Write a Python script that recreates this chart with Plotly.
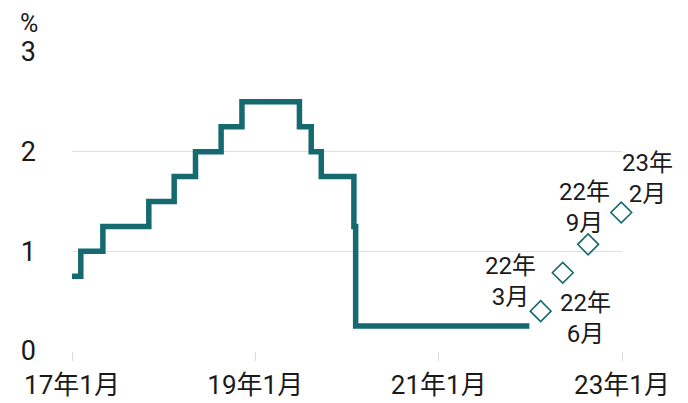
import plotly.graph_objects as go

# Policy rate (step line), dates
rate_dates = ["2017-01-01", "2017-02-05", "2017-05-04", "2017-11-03", "2018-02-12",
              "2018-05-08", "2018-08-18", "2018-11-09", "2019-06-26", "2019-08-12",
              "2019-09-21", "2020-01-29", "2020-02-05", "2021-12-28"]
rate_values = [0.75, 1.0, 1.25, 1.5, 1.75, 2.0, 2.25, 2.5, 2.25, 2.0, 1.75, 1.25, 0.25, 0.25]

# Market expectations (diamonds)
fc_dates = ["2022-02-11", "2022-05-10", "2022-08-19", "2022-12-29"]
fc_values = [0.40, 0.785, 1.07, 1.39]
fc_labels = ["22年<br>3月", "22年<br>6月", "22年<br>9月", "23年<br>2月"]

x_tickvals = ["2017-01-01", "2019-01-01", "2021-01-01", "2023-01-01"]
x_ticktext = ["17年1月", "19年1月", "21年1月", "23年1月"]
y_tickvals = [0, 1, 2, 3]

TEAL = "#146a6f"
FONT = "Roboto, Noto Sans CJK JP, sans-serif"
TXT = "#1a1a1a"

fig = go.Figure()
fig.add_trace(go.Scatter(
    x=rate_dates, y=rate_values, mode="lines", line_shape="hv",
    line=dict(color=TEAL, width=5.5), hoverinfo="skip", cliponaxis=False))
fig.add_trace(go.Scatter(
    x=fc_dates, y=fc_values, mode="markers",
    marker=dict(symbol="diamond-open", size=16, color=TEAL, line=dict(width=1.6, color=TEAL)),
    hoverinfo="skip", cliponaxis=False))

# label placement (style offsets)
label_pos = [
    dict(xanchor="center", yanchor="bottom", xshift=-30, yshift=-2),
    dict(xanchor="center", yanchor="top", xshift=23, yshift=-14),
    dict(xanchor="center", yanchor="bottom", xshift=-4, yshift=5),
    dict(xanchor="center", yanchor="bottom", xshift=26, yshift=2),
]
for d, v, t, p in zip(fc_dates, fc_values, fc_labels, label_pos):
    fig.add_annotation(x=d, y=v, text=t, showarrow=False, align="center",
                       font=dict(size=24, color=TXT, family=FONT), **p)

fig.add_annotation(x=-0.078, y=1.0, xref="paper", yref="paper", text="%",
                   showarrow=False, xanchor="center", yanchor="bottom", yshift=12,
                   font=dict(size=25, color=TXT, family=FONT))

fig.update_layout(
    width=688, height=403,
    margin=dict(l=72, r=66, t=52, b=52),
    plot_bgcolor="white", paper_bgcolor="white",
    showlegend=False,
    font=dict(family=FONT, color=TXT),
    xaxis=dict(type="date", range=["2017-01-01", "2023-01-01"],
               tickvals=x_tickvals, ticktext=x_ticktext, automargin=False,
               showgrid=False, zeroline=False,
               showline=False, ticks="outside", ticklen=9, tickcolor="#d9d9d9",
               tickwidth=1, ticklabelstandoff=2,
               tickfont=dict(size=26, color=TXT, family=FONT)),
    yaxis=dict(range=[0, 3], tickvals=y_tickvals, showgrid=True, automargin=False,
               gridcolor="#e0e0e0", gridwidth=1, zeroline=False, showline=False,
               ticks="", ticklabelstandoff=35,
               tickfont=dict(size=27, color=TXT, family=FONT)),
)

fig.write_html("out.html", config={"displayModeBar": False},
               post_script="document.body.style.margin='0';")
